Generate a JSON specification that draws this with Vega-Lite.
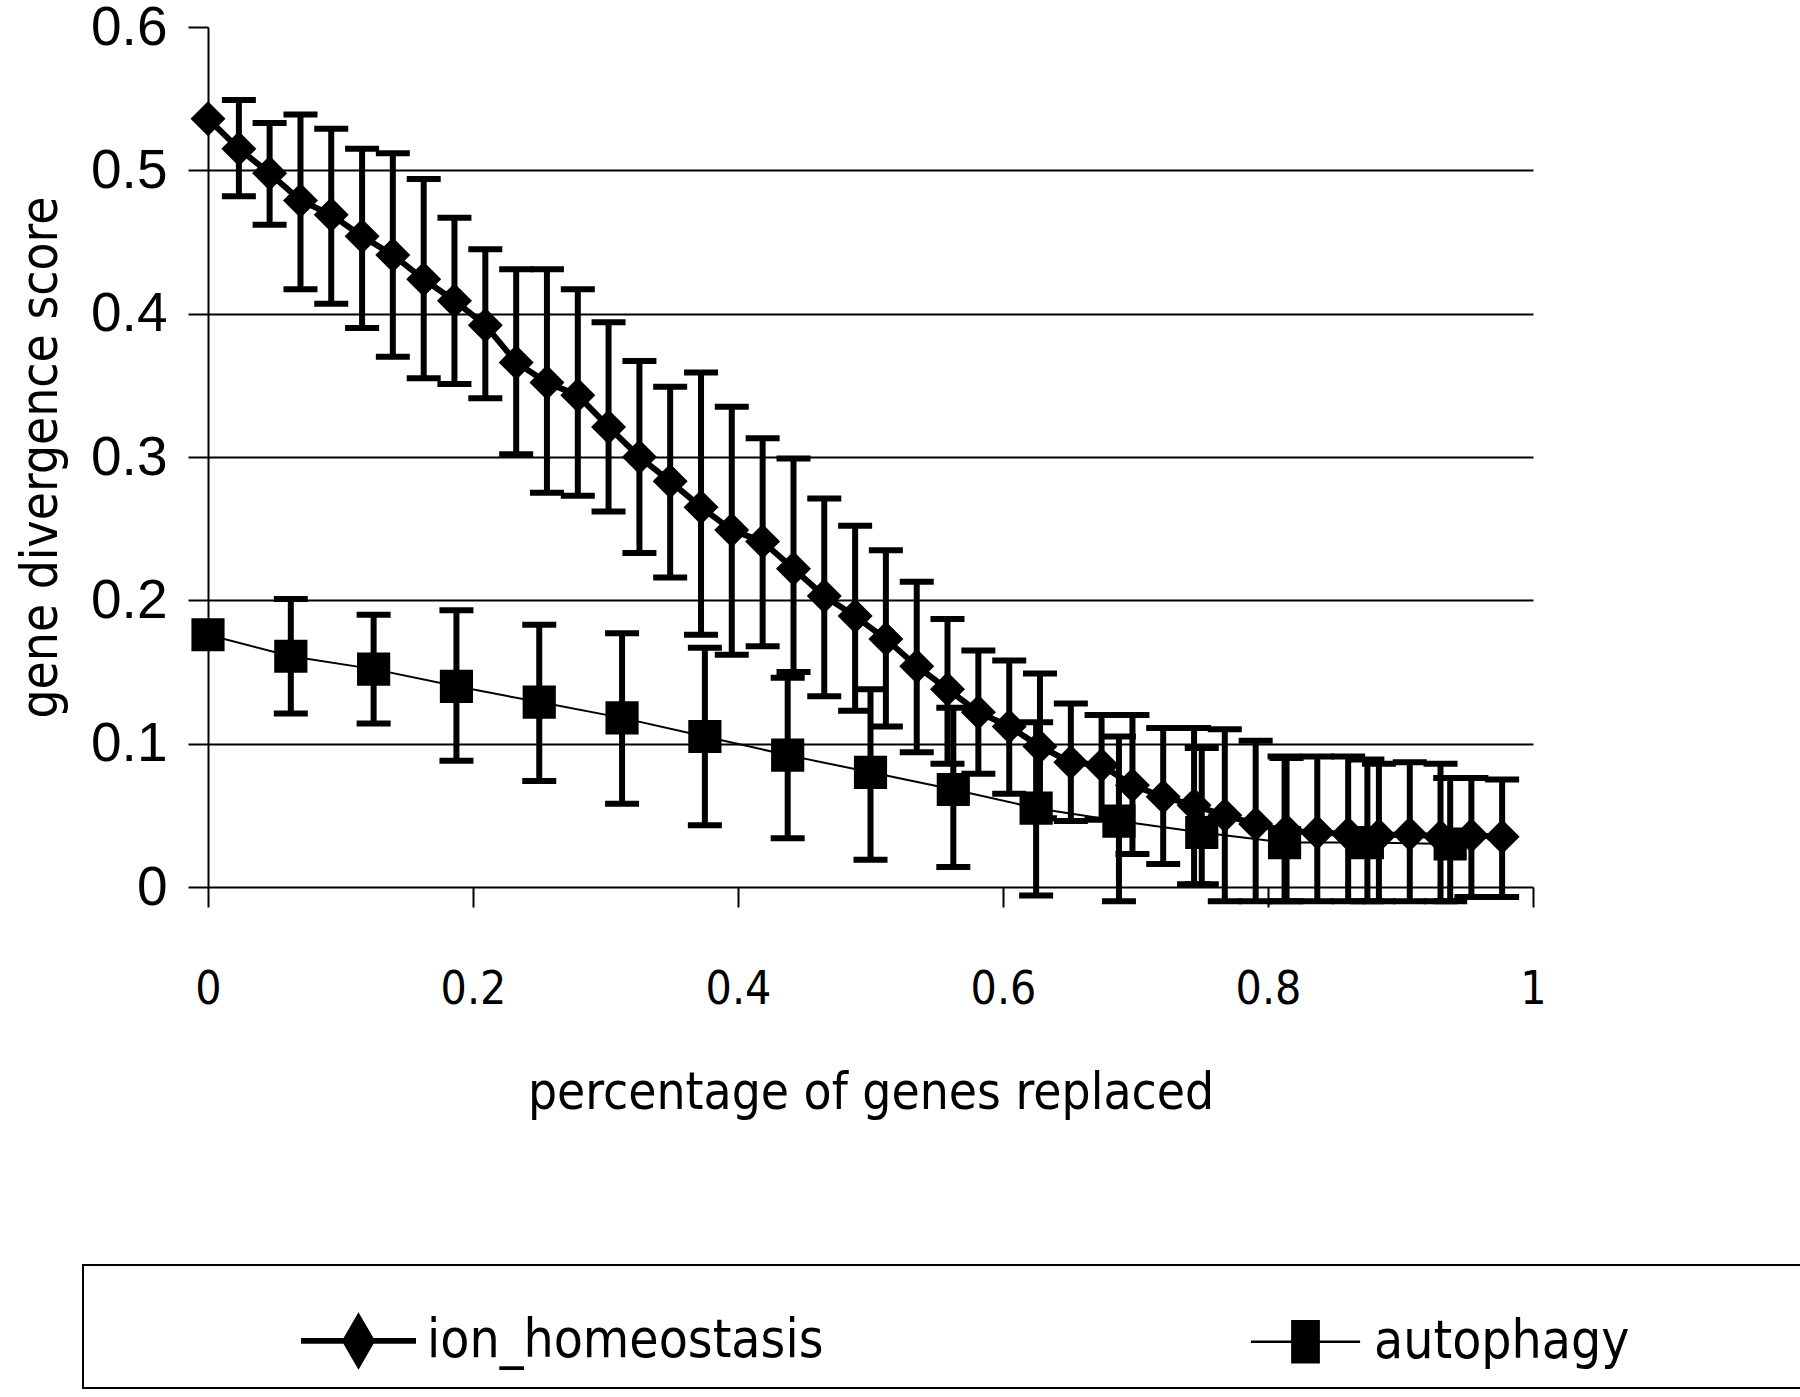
{
  "$schema": "https://vega.github.io/schema/vega-lite/v6.json",
  "width": 1325,
  "height": 860,
  "autosize": "none",
  "padding": {"left": 208, "top": 27, "right": 267, "bottom": 510},
  "background": "white",
  "datasets": {
    "pts": [
      {"series": "ion_homeostasis", "x": 0.0, "y": 0.536},
      {"series": "ion_homeostasis", "x": 0.0233, "y": 0.515, "hi": 0.549, "lo": 0.482},
      {"series": "ion_homeostasis", "x": 0.0465, "y": 0.498, "hi": 0.533, "lo": 0.462},
      {"series": "ion_homeostasis", "x": 0.0698, "y": 0.479, "hi": 0.539, "lo": 0.417},
      {"series": "ion_homeostasis", "x": 0.093, "y": 0.469, "hi": 0.529, "lo": 0.407},
      {"series": "ion_homeostasis", "x": 0.1163, "y": 0.454, "hi": 0.515, "lo": 0.39},
      {"series": "ion_homeostasis", "x": 0.1395, "y": 0.441, "hi": 0.512, "lo": 0.37},
      {"series": "ion_homeostasis", "x": 0.1628, "y": 0.424, "hi": 0.494, "lo": 0.355},
      {"series": "ion_homeostasis", "x": 0.186, "y": 0.409, "hi": 0.467, "lo": 0.351},
      {"series": "ion_homeostasis", "x": 0.2093, "y": 0.392, "hi": 0.445, "lo": 0.341},
      {"series": "ion_homeostasis", "x": 0.2326, "y": 0.366, "hi": 0.431, "lo": 0.302},
      {"series": "ion_homeostasis", "x": 0.2558, "y": 0.352, "hi": 0.431, "lo": 0.275},
      {"series": "ion_homeostasis", "x": 0.2791, "y": 0.343, "hi": 0.417, "lo": 0.273},
      {"series": "ion_homeostasis", "x": 0.3023, "y": 0.321, "hi": 0.394, "lo": 0.262},
      {"series": "ion_homeostasis", "x": 0.3256, "y": 0.3, "hi": 0.367, "lo": 0.233},
      {"series": "ion_homeostasis", "x": 0.3488, "y": 0.283, "hi": 0.349, "lo": 0.216},
      {"series": "ion_homeostasis", "x": 0.3721, "y": 0.265, "hi": 0.359, "lo": 0.176},
      {"series": "ion_homeostasis", "x": 0.3953, "y": 0.249, "hi": 0.335, "lo": 0.162},
      {"series": "ion_homeostasis", "x": 0.4186, "y": 0.241, "hi": 0.313, "lo": 0.168},
      {"series": "ion_homeostasis", "x": 0.4419, "y": 0.222, "hi": 0.299, "lo": 0.15},
      {"series": "ion_homeostasis", "x": 0.4651, "y": 0.203, "hi": 0.271, "lo": 0.133},
      {"series": "ion_homeostasis", "x": 0.4884, "y": 0.189, "hi": 0.252, "lo": 0.123},
      {"series": "ion_homeostasis", "x": 0.5116, "y": 0.173, "hi": 0.235, "lo": 0.112},
      {"series": "ion_homeostasis", "x": 0.5349, "y": 0.154, "hi": 0.213, "lo": 0.094},
      {"series": "ion_homeostasis", "x": 0.5581, "y": 0.138, "hi": 0.187, "lo": 0.086},
      {"series": "ion_homeostasis", "x": 0.5814, "y": 0.122, "hi": 0.165, "lo": 0.079},
      {"series": "ion_homeostasis", "x": 0.6047, "y": 0.112, "hi": 0.158, "lo": 0.065},
      {"series": "ion_homeostasis", "x": 0.6279, "y": 0.098, "hi": 0.149, "lo": 0.048},
      {"series": "ion_homeostasis", "x": 0.6512, "y": 0.087, "hi": 0.128, "lo": 0.046},
      {"series": "ion_homeostasis", "x": 0.6744, "y": 0.085, "hi": 0.12, "lo": 0.047},
      {"series": "ion_homeostasis", "x": 0.6977, "y": 0.071, "hi": 0.12, "lo": 0.023},
      {"series": "ion_homeostasis", "x": 0.7209, "y": 0.063, "hi": 0.111, "lo": 0.016},
      {"series": "ion_homeostasis", "x": 0.7442, "y": 0.057, "hi": 0.111, "lo": 0.002},
      {"series": "ion_homeostasis", "x": 0.7674, "y": 0.05, "hi": 0.11, "lo": -0.01},
      {"series": "ion_homeostasis", "x": 0.7907, "y": 0.044, "hi": 0.102, "lo": -0.01},
      {"series": "ion_homeostasis", "x": 0.814, "y": 0.039, "hi": 0.09, "lo": -0.01},
      {"series": "ion_homeostasis", "x": 0.8372, "y": 0.038, "hi": 0.091, "lo": -0.01},
      {"series": "ion_homeostasis", "x": 0.8605, "y": 0.037, "hi": 0.091, "lo": -0.01},
      {"series": "ion_homeostasis", "x": 0.8837, "y": 0.036, "hi": 0.086, "lo": -0.01},
      {"series": "ion_homeostasis", "x": 0.907, "y": 0.037, "hi": 0.087, "lo": -0.01},
      {"series": "ion_homeostasis", "x": 0.9302, "y": 0.035, "hi": 0.086, "lo": -0.01},
      {"series": "ion_homeostasis", "x": 0.9535, "y": 0.036, "hi": 0.076, "lo": -0.007},
      {"series": "ion_homeostasis", "x": 0.9767, "y": 0.035, "hi": 0.075, "lo": -0.007},
      {"series": "autophagy", "x": 0.0, "y": 0.176},
      {"series": "autophagy", "x": 0.0625, "y": 0.161, "hi": 0.201, "lo": 0.121},
      {"series": "autophagy", "x": 0.125, "y": 0.152, "hi": 0.19, "lo": 0.114},
      {"series": "autophagy", "x": 0.1875, "y": 0.14, "hi": 0.193, "lo": 0.088},
      {"series": "autophagy", "x": 0.25, "y": 0.129, "hi": 0.183, "lo": 0.074},
      {"series": "autophagy", "x": 0.3125, "y": 0.118, "hi": 0.177, "lo": 0.058},
      {"series": "autophagy", "x": 0.375, "y": 0.105, "hi": 0.167, "lo": 0.043},
      {"series": "autophagy", "x": 0.4375, "y": 0.092, "hi": 0.146, "lo": 0.034},
      {"series": "autophagy", "x": 0.5, "y": 0.08, "hi": 0.138, "lo": 0.019},
      {"series": "autophagy", "x": 0.5625, "y": 0.068, "hi": 0.125, "lo": 0.014},
      {"series": "autophagy", "x": 0.625, "y": 0.055, "hi": 0.115, "lo": -0.006},
      {"series": "autophagy", "x": 0.6875, "y": 0.046, "hi": 0.105, "lo": -0.01},
      {"series": "autophagy", "x": 0.75, "y": 0.038, "hi": 0.097, "lo": 0.002},
      {"series": "autophagy", "x": 0.8125, "y": 0.031, "hi": 0.091, "lo": -0.01},
      {"series": "autophagy", "x": 0.875, "y": 0.031, "hi": 0.089, "lo": -0.01},
      {"series": "autophagy", "x": 0.9375, "y": 0.03, "hi": 0.076, "lo": -0.01}
    ]
  },
  "data": {"name": "pts"},
  "encoding": {
    "x": {
      "field": "x", "type": "quantitative",
      "scale": {"domain": [0, 1], "nice": false, "zero": false},
      "axis": {
        "values": [0, 0.2, 0.4, 0.6, 0.8, 1],
        "format": "~g",
        "grid": false,
        "labelFlush": false,
        "title": "percentage of genes replaced",
        "titleY": 221,
        "titleBaseline": "alphabetic",
        "titleFont": "DejaVu Sans Condensed",
        "titleFontSize": 51,
        "titleFontWeight": "normal",
        "labelFont": "DejaVu Sans Condensed",
        "labelFontSize": 46,
        "labelPadding": 60,
        "tickSize": 20
      }
    },
    "y": {
      "field": "y", "type": "quantitative",
      "scale": {"domain": [0, 0.6], "nice": false, "zero": false},
      "axis": {
        "values": [0, 0.1, 0.2, 0.3, 0.4, 0.5, 0.6],
        "format": "~g",
        "grid": true,
        "gridColor": "black",
        "gridWidth": 2,
        "gridOpacity": {"condition": {"test": "datum.value <= 0 || datum.value >= 0.6", "value": 0}, "value": 1},
        "title": "gene divergence score",
        "titleX": -152,
        "titleY": 430,
        "titleAngle": -90,
        "titleAlign": "center",
        "titleBaseline": "alphabetic",
        "titleFont": "DejaVu Sans Condensed",
        "titleFontSize": 51,
        "titleFontWeight": "normal",
        "labelFont": "Liberation Sans, Arial, sans-serif",
        "labelFontSize": 55,
        "labelPadding": 21,
        "tickSize": 20
      }
    }
  },
  "layer": [
    {
      "transform": [{"filter": "isValid(datum.lo)"}],
      "mark": {"type": "rule", "color": "black", "strokeWidth": 6},
      "encoding": {"y": {"field": "lo", "type": "quantitative"}, "y2": {"field": "hi"}}
    },
    {
      "transform": [{"filter": "isValid(datum.lo)"}],
      "mark": {"type": "tick", "orient": "horizontal", "color": "black", "size": 34, "thickness": 6, "opacity": 1},
      "encoding": {"y": {"field": "lo", "type": "quantitative"}}
    },
    {
      "transform": [{"filter": "isValid(datum.hi)"}],
      "mark": {"type": "tick", "orient": "horizontal", "color": "black", "size": 34, "thickness": 6, "opacity": 1},
      "encoding": {"y": {"field": "hi", "type": "quantitative"}}
    },
    {
      "transform": [{"filter": "datum.series == 'ion_homeostasis'"}],
      "mark": {"type": "line", "color": "black", "strokeWidth": 6},
      "encoding": {}
    },
    {
      "transform": [{"filter": "datum.series == 'autophagy'"}],
      "mark": {"type": "line", "color": "black", "strokeWidth": 2},
      "encoding": {}
    },
    {
      "transform": [{"filter": "datum.series == 'ion_homeostasis'"}],
      "mark": {"type": "point", "shape": "diamond", "filled": true, "color": "black", "size": 1225, "opacity": 1},
      "encoding": {}
    },
    {
      "transform": [{"filter": "datum.series == 'autophagy'"}],
      "mark": {"type": "point", "shape": "square", "filled": true, "color": "black", "size": 1100, "opacity": 1},
      "encoding": {}
    },
    {
      "transform": [{"filter": "datum.x == 0"}],
      "mark": {"type": "point", "filled": true, "color": "black", "size": 1, "opacity": 0},
      "encoding": {
        "shape": {
          "field": "series", "type": "nominal",
          "scale": {
            "domain": ["ion_homeostasis", "autophagy"],
            "range": [
              "M-1,-0.05L1,-0.05L1,0.05L-1,0.05Z M0,-0.5L0.29,0L0,0.5L-0.29,0Z",
              "M-0.95,-0.022L0.95,-0.022L0.95,0.022L-0.95,0.022Z M-0.25,-0.38L0.25,-0.38L0.25,0.38L-0.25,0.38Z M9,0"
            ]
          },
          "legend": {
            "title": " ",
            "titleOrient": "left",
            "titlePadding": 200,
            "titleFontSize": 1,
            "orient": "none",
            "legendX": -125,
            "legendY": 1238,
            "direction": "horizontal",
            "columns": 2,
            "gridAlign": "each",
            "columnPadding": 424,
            "symbolSize": 13225,
            "symbolFillColor": "black",
            "symbolStrokeColor": "black",
            "symbolStrokeWidth": 0,
            "symbolOpacity": 1,
            "labelFont": "DejaVu Sans Condensed",
            "labelFontSize": 53,
            "labelOffset": 11,
            "labelColor": "black",
            "labelLimit": 0,
            "padding": 18,
            "strokeColor": "black"
          }
        }
      }
    }
  ],
  "config": {
    "view": {"stroke": null},
    "axis": {
      "domainColor": "black",
      "domainWidth": 2,
      "tickColor": "black",
      "tickWidth": 2,
      "labelColor": "black",
      "titleColor": "black"
    },
    "legend": {"strokeWidth": 2}
  }
}
